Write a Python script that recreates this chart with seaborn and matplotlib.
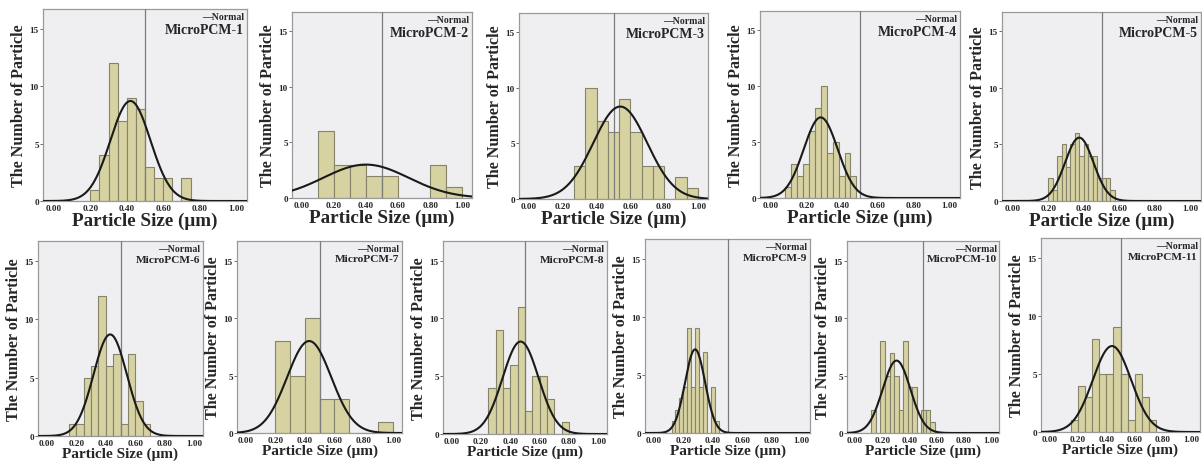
import numpy as np
import pandas as pd
import matplotlib
matplotlib.use("Agg")
import matplotlib.pyplot as plt
import seaborn as sns

# ---------------- data ----------------
names = ["MicroPCM-1", "MicroPCM-2", "MicroPCM-3", "MicroPCM-4", "MicroPCM-5",
         "MicroPCM-6", "MicroPCM-7", "MicroPCM-8", "MicroPCM-9", "MicroPCM-10",
         "MicroPCM-11"]

bin_start = [0.20, 0.10, 0.2667, 0.08, 0.20, 0.15, 0.20, 0.25, 0.12, 0.12, 0.15]
bin_width = [0.05, 0.10, 1 / 15, 1 / 30, 0.025, 0.05, 0.10, 0.05, 0.027, 1 / 30, 0.05]

counts_1 = [1, 4, 12, 7, 9, 8, 3, 2, 2, 0, 2]
counts_2 = [6, 3, 3, 2, 2, 0, 0, 3, 1]
counts_3 = [3, 10, 7, 6, 9, 6, 3, 3, 0, 2, 1]
counts_4 = [1, 3, 2, 3, 6, 8, 10, 4, 5, 2, 4, 2]
counts_5 = [2, 1, 4, 5, 3, 5, 6, 4, 5, 4, 4, 2, 2, 2, 1]
counts_6 = [1, 1, 5, 6, 12, 6, 7, 1, 7, 3, 1]
counts_7 = [8, 5, 10, 3, 3, 0, 0, 1]
counts_8 = [4, 9, 4, 6, 11, 2, 5, 5, 3, 0, 1]
counts_9 = [1, 2, 3, 4, 9, 4, 9, 4, 7, 0, 4, 1]
counts_10 = [2, 0, 8, 5, 7, 5, 2, 8, 4, 4, 0, 2, 2, 1]
counts_11 = [1, 4, 3, 8, 5, 5, 9, 5, 1, 5, 3, 1]
all_counts = [counts_1, counts_2, counts_3, counts_4, counts_5, counts_6,
              counts_7, counts_8, counts_9, counts_10, counts_11]

# fitted normal curves (mean, sd, peak height)
norm_mean = [0.42, 0.40, 0.54, 0.28, 0.375, 0.43, 0.43, 0.47, 0.28, 0.305, 0.44]
norm_sd = [0.11, 0.265, 0.16, 0.095, 0.08, 0.113, 0.15, 0.123, 0.068, 0.102, 0.135]
norm_peak = [8.7, 3.0, 8.3, 7.2, 5.6, 8.7, 8.0, 8.0, 7.2, 6.3, 7.4]

x_ticks = [0.0, 0.2, 0.4, 0.6, 0.8, 1.0]
y_ticks = [0, 5, 10, 15]

# ---------------- layout (pixel frames: left, right, top, bottom) ----------------
W, H = 1202, 464
frames = [(43, 247, 10, 202), (292, 472, 13, 199), (519, 708, 14, 200),
          (760, 960, 12, 199), (1002, 1201, 13, 202),
          (38, 203, 242, 437), (237, 402, 242, 434), (443, 607, 242, 435),
          (645, 810, 240, 434), (847, 999, 242, 434), (1041, 1200, 239, 433)]

sns.set_theme(style="white")
plt.rcParams["font.family"] = ["Liberation Serif", "DejaVu Serif"]
plt.rcParams["font.weight"] = "bold"

fig = plt.figure(figsize=(W / 100, H / 100), dpi=100)
fig.patch.set_facecolor("white")

fill = "#d6d2a2"
edge = "#85836a"
bg = "#efeff1"

for i, (l, r, t, b) in enumerate(frames):
    top_row = i < 5
    ax = fig.add_axes([l / W, 1 - b / H, (r - l) / W, (b - t) / H])
    ax.set_facecolor(bg)

    counts = [float(c) for c in all_counts[i]]
    w = float(bin_width[i])
    start = float(bin_start[i])
    centers = [start + w * (k + 0.5) for k in range(len(counts))]
    df = pd.DataFrame({"size": centers, "count": counts})
    sns.histplot(data=df, x="size", weights="count", binwidth=w,
                 binrange=(start, start + w * len(counts)), ax=ax,
                 color=fill, edgecolor=edge, linewidth=0.8, alpha=1.0, zorder=2)

    xs = np.linspace(-0.06, 1.06, 300)
    ys = norm_peak[i] * np.exp(-0.5 * ((xs - norm_mean[i]) / norm_sd[i]) ** 2)
    sns.lineplot(x=xs, y=ys, ax=ax, color="#1a1a1a", linewidth=1.5, zorder=4)

    ax.axvline(0.5, color="#7c7c7c", linewidth=0.9, zorder=3)

    ax.set_xlim(-0.06, 1.06)
    ax.set_ylim(0, 16.7)
    ax.set_xticks(x_ticks)
    ax.set_xticklabels([f"{v:.2f}" for v in x_ticks])
    ax.set_yticks(y_ticks)
    ax.set_yticklabels([str(v) for v in y_ticks])
    ax.tick_params(axis="x", length=0, pad=2, labelsize=6.6)
    ax.tick_params(axis="y", length=2, width=0.6, pad=1, labelsize=6.6,
                   direction="out", left=True, color="#555555")
    for lab in ax.get_xticklabels() + ax.get_yticklabels():
        lab.set_fontweight("bold")

    xl_size = 13.8 if top_row else 11
    ax.set_xlabel("Particle Size (μm)", fontsize=xl_size, fontweight="bold",
                  labelpad=0)
    ax.set_ylabel("The Number of Particle", fontsize=11.6, fontweight="bold",
                  labelpad=2)

    for s in ax.spines.values():
        s.set_color("#9a9a9a")
        s.set_linewidth(0.9)

    name_size = 10 if top_row else 8.2
    ax.text(0.985, 0.985, "—Normal", transform=ax.transAxes, ha="right",
            va="top", fontsize=7, fontweight="bold", zorder=5)
    ax.text(0.985, 0.925 if top_row else 0.93, names[i], transform=ax.transAxes,
            ha="right", va="top", fontsize=name_size, fontweight="bold", zorder=5)

fig.savefig("out.png", dpi=100)
